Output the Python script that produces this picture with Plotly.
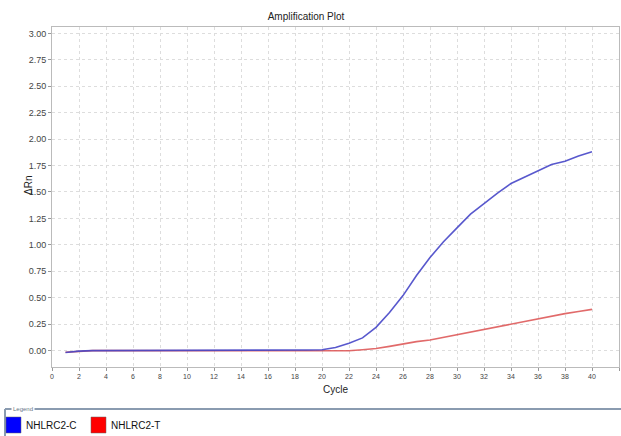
import plotly.graph_objects as go

cycles = list(range(1, 41))
nhlrc2_c = [-0.018, -0.005, 0.0, 0.0, 0.0, 0.0, 0.0, 0.0, 0.0, 0.0,
            0.0, 0.0, 0.0, 0.0, 0.0, 0.0, 0.0, 0.002, 0.006, 0.008,
            0.03, 0.07, 0.12, 0.22, 0.36, 0.52, 0.71, 0.88, 1.03, 1.16,
            1.29, 1.39, 1.49, 1.58, 1.64, 1.70, 1.76, 1.79, 1.84, 1.88]
nhlrc2_t = [-0.015, -0.004, 0.0, 0.0, 0.0, 0.0, 0.0, 0.0, 0.0, 0.0,
            0.0, 0.0, 0.0, 0.0, 0.0, 0.0, 0.0, 0.0, 0.0, -0.002,
            -0.003, -0.002, 0.008, 0.02, 0.04, 0.065, 0.085, 0.10, 0.125, 0.15,
            0.175, 0.20, 0.225, 0.255, 0.28, 0.30, 0.325, 0.35, 0.37, 0.39]
x_ticks = list(range(0, 43, 2))
y_ticks = [0, 0.25, 0.5, 0.75, 1.0, 1.25, 1.5, 1.75, 2.0, 2.25, 2.5, 2.75, 3.0]
legend_names = ["NHLRC2-C", "NHLRC2-T"]

fig = go.Figure()
fig.add_trace(go.Scatter(x=cycles, y=nhlrc2_t, mode="lines", name=legend_names[1],
                         line=dict(color="rgba(220,80,80,0.85)", width=1.6), showlegend=False))
fig.add_trace(go.Scatter(x=cycles, y=nhlrc2_c, mode="lines", name=legend_names[0],
                         line=dict(color="rgba(70,70,200,0.9)", width=1.6), showlegend=False))

font = "Liberation Sans, Arial, sans-serif"
L, T, R, B = 52, 27, 619, 367
PW, PH = R - L, B - T


def px(x):
    return (x - L) / PW


def py(y):
    return (B - y) / PH


fig.update_layout(
    width=621, height=436,
    margin=dict(l=L, r=621 - R, t=T, b=436 - B, autoexpand=False),
    paper_bgcolor="white", plot_bgcolor="white",
    font=dict(family=font, size=9, color="#333333"),
    title=dict(text="Amplification Plot", xref="container", x=306 / 621, xanchor="center",
               yref="container", y=1 - 16 / 436, yanchor="middle",
               font=dict(size=10, color="#222222")),
    xaxis=dict(range=[0, 42], tickvals=x_ticks, ticktext=[str(v) for v in x_ticks],
               showgrid=True, gridcolor="#dddddd", griddash="dot", gridwidth=1,
               showline=True, linecolor="#bbbbbb", mirror=True, linewidth=1,
               ticks="outside", ticklen=3, tickcolor="#999999", automargin=False,
               tickfont=dict(size=7, color="#444444"), zeroline=False),
    yaxis=dict(range=[-0.155, 3.06], tickvals=y_ticks, ticktext=["%.2f" % v for v in y_ticks],
               showgrid=True, gridcolor="#dddddd", griddash="dot", gridwidth=1,
               showline=True, linecolor="#bbbbbb", mirror=True, linewidth=1,
               ticks="outside", ticklen=3, tickcolor="#999999", automargin=False,
               tickfont=dict(size=9, color="#444444"), zeroline=False),
)

# Axis titles
fig.add_annotation(xref="paper", yref="paper", x=px(335), y=py(389), text="Cycle",
                   showarrow=False, xanchor="center", yanchor="middle",
                   font=dict(size=10, color="#222222"))
fig.add_annotation(xref="paper", yref="paper", x=px(28), y=py(186), text="ΔRn",
                   showarrow=False, xanchor="center", yanchor="middle", textangle=-90,
                   font=dict(size=10, color="#222222"))

# Legend frame
lc = "#8a9bb0"
fig.add_shape(type="line", xref="paper", yref="paper", x0=px(5), x1=px(640),
              y0=py(409), y1=py(409), line=dict(color=lc, width=2))
fig.add_shape(type="line", xref="paper", yref="paper", x0=px(5), x1=px(5),
              y0=py(409), y1=py(445), line=dict(color=lc, width=2))
fig.add_annotation(xref="paper", yref="paper", x=px(11), y=py(409),
                   text="Legend", showarrow=False, xanchor="left", yanchor="middle",
                   font=dict(size=6, color="#667788"), bgcolor="white", borderpad=1)
for i, (name, col) in enumerate(zip(legend_names, ["#0000ff", "#ff0000"])):
    x0 = 6 + i * 85
    fig.add_shape(type="rect", xref="paper", yref="paper",
                  x0=px(x0), x1=px(x0 + 15), y0=py(417), y1=py(433),
                  fillcolor=col, line=dict(color="#666666", width=0.5))
    fig.add_annotation(xref="paper", yref="paper", x=px(x0 + 18), y=py(425),
                       text=name, showarrow=False, xanchor="left", yanchor="middle",
                       font=dict(size=10, color="#111111"))

fig.write_html("out.html", config={"displayModeBar": False},
               post_script="document.body.style.margin='0';document.body.style.overflow='hidden';")
